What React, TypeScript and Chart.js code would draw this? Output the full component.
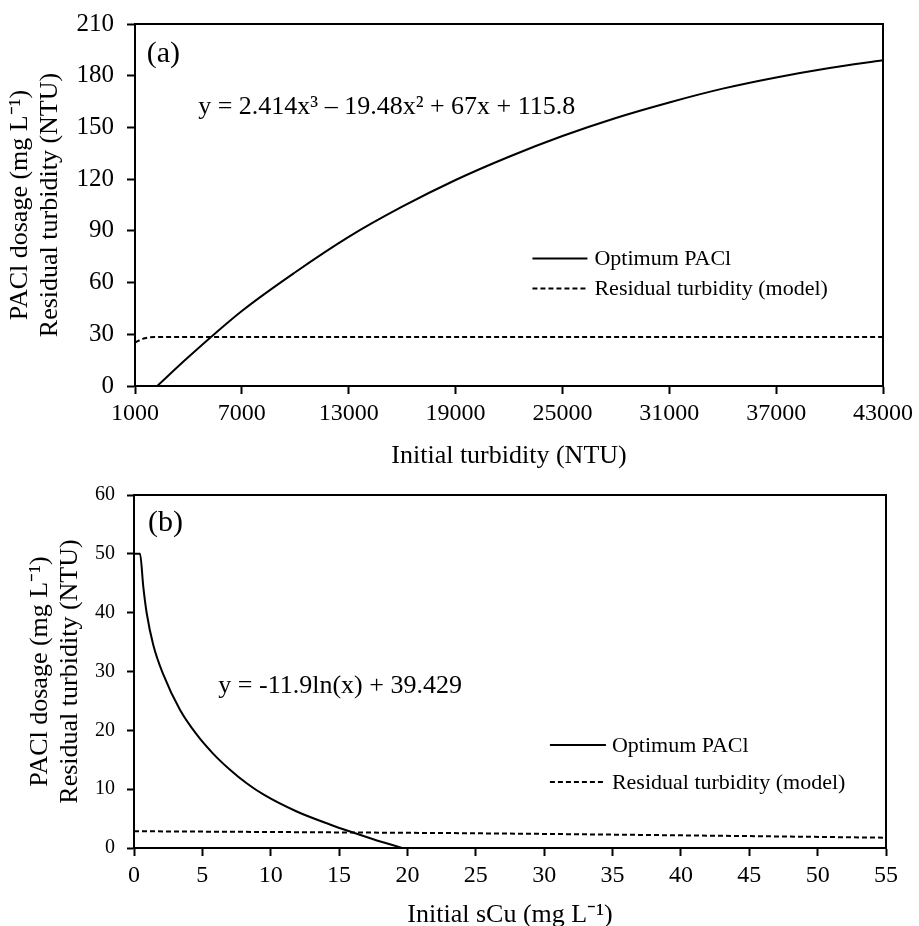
import React, { useEffect, useRef } from 'react';
import { Chart, registerables } from 'chart.js';

Chart.register(...registerables);

const FONT = "'Liberation Serif', 'Times New Roman', serif";
Chart.defaults.font.family = FONT;
Chart.defaults.color = '#000';

// ---------- Panel (a) ----------
const turbidityX = [2250, 4000, 7000, 10000, 13000, 16000, 19000, 22000, 25000, 28000, 31000, 34000, 37000, 40000, 43000];
const paclA = [0, 16.8, 43.5, 66, 86.5, 104, 119.5, 133, 145, 155.5, 164.5, 172.5, 179, 184.5, 189];
const residualXA = [1000, 1550, 2100, 43000];
const residualA = [25.3, 27.7, 28.4, 28.4];
const xTicksA = [1000, 7000, 13000, 19000, 25000, 31000, 37000, 43000];
const yTicksA = [0, 30, 60, 90, 120, 150, 180, 210];

// ---------- Panel (b) ----------
const scuX = [0, 0.44, 0.68, 0.93, 1.41, 2.14, 3.36, 4.58, 5.8, 7.02, 8.24, 9.46, 11.9, 14.33, 15.8, 17.5, 19.6];
const paclB = [50, 50, 44.4, 39.9, 34.5, 29.5, 23.5, 19.3, 16.0, 13.3, 11.0, 9.1, 6.2, 4.0, 2.8, 1.5, 0];
const residualXB = [0, 15, 25, 40, 55];
const residualB = [2.85, 2.65, 2.5, 2.15, 1.75];
const xTicksB = [0, 5, 10, 15, 20, 25, 30, 35, 40, 45, 50, 55];
const yTicksB = [0, 10, 20, 30, 40, 50, 60];

const seriesLabels = ['Optimum PACl', 'Residual turbidity (model)'];
const yTitle = ['PACl dosage (mg L\u207B\u00B9)', 'Residual turbidity (NTU)'];
const xTitleA = 'Initial turbidity (NTU)';
const xTitleB = 'Initial sCu (mg L\u207B\u00B9)';
const eqA = 'y = 2.414x\u00B3 \u2013 19.48x\u00B2 + 67x + 115.8';
const eqB = 'y = -11.9ln(x) + 39.429';

type Note = { text: string; x: number; y: number; size: number };

function notesPlugin(items: Note[]) {
  return {
    id: 'textNotes',
    afterDatasetsDraw(chart: any) {
      const { ctx, scales } = chart;
      items.forEach((it) => {
        ctx.save();
        ctx.font = `${it.size}px ${FONT}`;
        ctx.fillStyle = '#000';
        ctx.textAlign = 'left';
        ctx.textBaseline = 'alphabetic';
        ctx.fillText(it.text, scales.x.getPixelForValue(it.x), scales.y.getPixelForValue(it.y));
        ctx.restore();
      });
    },
  };
}

function legendPlugin(cfg: { x: number; y: number; rowGap: number; lineLen: number; gap: number; size: number }) {
  return {
    id: 'inlineLegend',
    afterDatasetsDraw(chart: any) {
      const { ctx } = chart;
      const x0 = chart.scales.x.getPixelForValue(cfg.x);
      const y0 = chart.scales.y.getPixelForValue(cfg.y);
      chart.data.datasets.forEach((ds: any, i: number) => {
        const y = y0 + i * cfg.rowGap;
        ctx.save();
        ctx.strokeStyle = ds.borderColor;
        ctx.lineWidth = ds.borderWidth;
        ctx.setLineDash(ds.borderDash || []);
        ctx.beginPath();
        ctx.moveTo(x0, y);
        ctx.lineTo(x0 + cfg.lineLen, y);
        ctx.stroke();
        ctx.setLineDash([]);
        ctx.fillStyle = '#000';
        ctx.font = `${cfg.size}px ${FONT}`;
        ctx.textBaseline = 'middle';
        ctx.textAlign = 'left';
        ctx.fillText(ds.label, x0 + cfg.lineLen + cfg.gap, y + 1);
        ctx.restore();
      });
    },
  };
}

function zeroPadding(ax: any) {
  ax.paddingTop = 0;
  ax.paddingBottom = 0;
  ax.paddingLeft = 0;
  ax.paddingRight = 0;
}

function frameAxis(position: string) {
  return {
    type: 'linear',
    position,
    display: true,
    ticks: { display: false },
    grid: { display: true, drawOnChartArea: false, drawTicks: false },
    border: { display: true, color: '#000', width: 2 },
    afterFit: (ax: any) => {
      if (position === 'top') ax.height = 0;
      else ax.width = 0;
      zeroPadding(ax);
    },
  };
}

type PanelSpec = {
  curveX: number[];
  curveY: number[];
  resX: number[];
  resY: number[];
  xTicks: number[];
  yTicks: number[];
  xTitle: string;
  padding: { top: number; right: number; bottom: number; left: number };
  yAxisWidth: number;
  xAxisHeight: number;
  yTickFont: number;
  xTickFont: number;
  yTickLen: number;
  yTickPad: number;
  xTickPad: number;
  yTitlePad: number;
  xTitlePad: number;
  notes: Note[];
  legend: { x: number; y: number; rowGap: number; lineLen: number; gap: number; size: number };
};

function buildConfig(p: PanelSpec): any {
  const xMin = p.xTicks[0];
  const xMax = p.xTicks[p.xTicks.length - 1];
  const yMin = p.yTicks[0];
  const yMax = p.yTicks[p.yTicks.length - 1];
  return {
    type: 'line',
    data: {
      datasets: [
        {
          label: seriesLabels[0],
          data: p.curveX.map((x, i) => ({ x, y: p.curveY[i] })),
          borderColor: '#000',
          borderWidth: 2,
          pointRadius: 0,
          fill: false,
          cubicInterpolationMode: 'monotone',
          xAxisID: 'x',
          yAxisID: 'y',
        },
        {
          label: seriesLabels[1],
          data: p.resX.map((x, i) => ({ x, y: p.resY[i] })),
          borderColor: '#000',
          borderWidth: 2,
          borderDash: [5, 3],
          pointRadius: 0,
          fill: false,
          cubicInterpolationMode: 'monotone',
          xAxisID: 'x',
          yAxisID: 'y',
        },
      ],
    },
    options: {
      animation: false,
      responsive: false,
      events: [],
      layout: { padding: p.padding },
      plugins: { legend: { display: false }, tooltip: { enabled: false } },
      scales: {
        x: {
          type: 'linear',
          position: 'bottom',
          min: xMin,
          max: xMax,
          afterBuildTicks: (ax: any) => {
            ax.ticks = p.xTicks.map((v) => ({ value: v }));
          },
          afterFit: (ax: any) => {
            ax.height = p.xAxisHeight;
            zeroPadding(ax);
          },
          ticks: {
            autoSkip: false,
            maxRotation: 0,
            minRotation: 0,
            padding: p.xTickPad,
            color: '#000',
            font: { family: FONT, size: p.xTickFont },
            callback: (v: any) => String(v),
          },
          grid: { display: true, drawOnChartArea: false, drawTicks: true, tickLength: 8, tickWidth: 2, tickColor: '#000', color: '#000' },
          border: { display: true, color: '#000', width: 2 },
          title: {
            display: true,
            text: p.xTitle,
            color: '#000',
            font: { family: FONT, size: 26, lineHeight: 1.15 },
            padding: { top: 0, bottom: p.xTitlePad },
          },
        },
        y: {
          type: 'linear',
          position: 'left',
          min: yMin,
          max: yMax,
          afterBuildTicks: (ax: any) => {
            ax.ticks = p.yTicks.map((v) => ({ value: v }));
          },
          afterFit: (ax: any) => {
            ax.width = p.yAxisWidth;
            zeroPadding(ax);
          },
          ticks: {
            padding: p.yTickPad,
            color: '#000',
            font: { family: FONT, size: p.yTickFont },
            callback: (v: any) => String(v),
          },
          grid: { display: true, drawOnChartArea: false, drawTicks: true, tickLength: p.yTickLen, tickWidth: 2, tickColor: '#000', color: '#000' },
          border: { display: true, color: '#000', width: 2 },
          title: {
            display: true,
            text: yTitle,
            color: '#000',
            font: { family: FONT, size: 26, lineHeight: 1.15 },
            padding: { top: p.yTitlePad, bottom: 0 },
          },
        },
        x2: frameAxis('top'),
        y2: frameAxis('right'),
      },
    },
    plugins: [notesPlugin(p.notes), legendPlugin(p.legend)],
  };
}

const panelA: PanelSpec = {
  curveX: turbidityX,
  curveY: paclA,
  resX: residualXA,
  resY: residualA,
  xTicks: xTicksA,
  yTicks: yTicksA,
  xTitle: xTitleA,
  padding: { top: 24, right: 36, bottom: 0, left: 0 },
  yAxisWidth: 135,
  xAxisHeight: 86,
  yTickFont: 25,
  xTickFont: 24,
  yTickLen: 8,
  yTickPad: 13,
  xTickPad: 5,
  yTitlePad: 5.5,
  xTitlePad: 1,
  notes: [
    { text: '(a)', x: 1656, y: 187.7, size: 30 },
    { text: eqA, x: 4549, y: 157.6, size: 26 },
  ],
  legend: { x: 23316, y: 74, rowGap: 30, lineLen: 55, gap: 7, size: 22 },
};

const panelB: PanelSpec = {
  curveX: scuX,
  curveY: paclB,
  resX: residualXB,
  resY: residualB,
  xTicks: xTicksB,
  yTicks: yTicksB,
  xTitle: xTitleB,
  padding: { top: 23, right: 33, bottom: 0, left: 0 },
  yAxisWidth: 134,
  xAxisHeight: 84,
  yTickFont: 20,
  xTickFont: 24,
  yTickLen: 7,
  yTickPad: 12,
  xTickPad: 5,
  yTitlePad: 25.5,
  xTitlePad: 2,
  notes: [
    { text: '(b)', x: 1.02, y: 53.8, size: 30 },
    { text: eqB, x: 6.17, y: 26.3, size: 26 },
  ],
  legend: { x: 30.42, y: 17.5, rowGap: 37, lineLen: 56, gap: 6, size: 22 },
};

function ChartBox({ top, height, spec }: { top: number; height: number; spec: PanelSpec }) {
  const ref = useRef<HTMLCanvasElement>(null);
  useEffect(() => {
    const chart = new Chart(ref.current as HTMLCanvasElement, buildConfig(spec));
    return () => chart.destroy();
  }, [spec]);
  return (
    <canvas
      ref={ref}
      width={919}
      height={height}
      style={{ position: 'absolute', left: 0, top, width: 919, height, display: 'block' }}
    />
  );
}

export default function App() {
  return (
    <div
      style={{
        position: 'fixed',
        left: 0,
        top: 0,
        width: 919,
        height: 926,
        overflow: 'hidden',
        background: '#fff',
      }}
    >
      <ChartBox top={0} height={472} spec={panelA} />
      <ChartBox top={472} height={460} spec={panelB} />
    </div>
  );
}
